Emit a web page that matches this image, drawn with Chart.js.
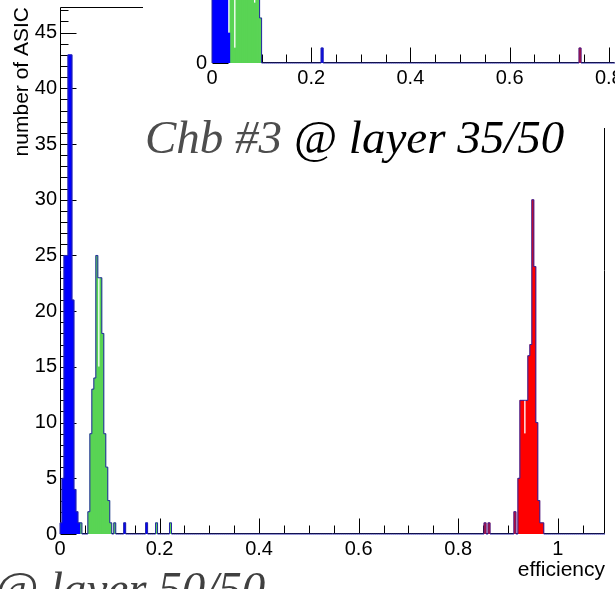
<!DOCTYPE html>
<html>
<head>
<meta charset="utf-8">
<script src="https://cdn.jsdelivr.net/npm/chart.js@4.4.1/dist/chart.umd.min.js"></script>
<style>
  html, body { margin: 0; padding: 0; background: #fff; }
  #page { position: relative; width: 615px; height: 589px; overflow: hidden; background: #fff; }
  #mainChart { position: absolute; left: 0; top: 0; }
  #insetPad { position: absolute; left: 143px; top: 0; width: 472px; height: 128px; background: #fff; }
  .label {
    position: absolute;
    font-family: "Liberation Serif", "Times New Roman", serif;
    font-style: italic;
    font-size: 47px;
    line-height: 47px;
    white-space: nowrap;
  }
</style>
</head>
<body>
<div id="page">
  <canvas id="mainChart" width="615" height="589"></canvas>
  <div id="insetPad"><canvas id="insetChart" width="472" height="128"></canvas></div>
  <div class="label" id="topLabel" style="left:145px; top:114px;"><span style="color:#4d4d4d">Chb #3</span> @ layer 35/50</div>
  <div class="label" id="bottomLabel" style="left:-5px; top:565px; color:#404040;">@ layer 50/50</div>
</div>
<script>
const BIN_WIDTH = 0.004;

// main pad: lower edge of every filled bin, and its count
const blueEdges = [0.000, 0.004, 0.008, 0.012, 0.016, 0.020, 0.024, 0.028, 0.032, 0.036, 0.128, 0.172];
const blueCounts = [1, 5, 25, 25, 43, 43, 21, 4, 2, 1, 1, 1];
const greenEdges = [0.040, 0.056, 0.060, 0.064, 0.068, 0.072, 0.076, 0.080, 0.084, 0.088, 0.092, 0.096, 0.100, 0.108, 0.192, 0.220];
const greenCounts = [1, 2, 9, 13, 14, 25, 15, 23, 18, 9, 6, 3, 1, 1, 1, 1];
const redEdges = [0.852, 0.860, 0.912, 0.920, 0.924, 0.928, 0.932, 0.936, 0.940, 0.944, 0.948, 0.952, 0.956, 0.960, 0.964, 0.968];
const redCounts = [1, 1, 2, 5, 12, 12, 9, 12, 16, 17, 30, 24, 10, 3, 1, 1];
// bins where the outline stands above the fill
const notchEdges = [0.076, 0.932];
const notchCounts = [23, 12];

const xTickValues = [0, 0.2, 0.4, 0.6, 0.8, 1];
const xTickLabels = ['0', '0.2', '0.4', '0.6', '0.8', '1'];
const yTickValues = [0, 5, 10, 15, 20, 25, 30, 35, 40, 45];
const yTickLabels = ['0', '5', '10', '15', '20', '25', '30', '35', '40', '45'];

// inset pad (layer 35/50), cut off at the top of the picture
const insetBlueEdges = [0.000, 0.004, 0.008, 0.012, 0.016, 0.020, 0.024, 0.028, 0.032, 0.220];
const insetBlueCounts = [9, 18, 30, 35, 28, 16, 8, 5, 2, 1];
const insetGreenEdges = [0.036, 0.040, 0.044, 0.048, 0.052, 0.056, 0.060, 0.064, 0.068, 0.072, 0.076, 0.080, 0.084, 0.088, 0.092, 0.096];
const insetGreenCounts = [5, 8, 1, 14, 20, 24, 22, 25, 19, 16, 12, 9, 4, 6, 5, 3];
const insetRedEdges = [0.740];
const insetRedCounts = [1];
const insetNotchEdges = [0.032, 0.044, 0.084];
const insetNotchCounts = [6, 10, 7];

const insetTickValues = [0, 0.2, 0.4, 0.6, 0.8];
const insetTickLabels = ['0', '0.2', '0.4', '0.6', '0.8'];

const BLUE = '#0000ff';
const GREEN = '#59d454';
const RED = '#ff0000';
const OUTLINE = '#2626a6';

Chart.defaults.font.family = '"Liberation Sans", Arial, sans-serif';
Chart.defaults.color = '#000';

function barPoints(edges, counts) {
    return edges.map((e, i) => ({ x: e + BIN_WIDTH / 2, y: counts[i] }));
}

// step outline over all filled bins, running along zero elsewhere (like ROOT's hist line)
function outlinePoints(xMax, series) {
    const nBins = Math.ceil(xMax / BIN_WIDTH);
    const level = new Array(nBins).fill(0);
    series.forEach(([edges, counts]) => {
        edges.forEach((e, i) => {
            const b = Math.round(e / BIN_WIDTH);
            level[b] = Math.max(level[b], counts[i]);
        });
    });
    const pts = [{ x: 0, y: 0 }];
    level.forEach((v, b) => pts.push({ x: b * BIN_WIDTH, y: v }));
    pts.push({ x: xMax, y: 0 });
    return pts;
}

function barSet(edges, counts, color) {
    return {
        type: 'bar',
        data: barPoints(edges, counts),
        backgroundColor: color,
        borderWidth: 0,
        grouped: false,
        barPercentage: 1,
        categoryPercentage: 1,
        order: 2,
    };
}

function lineSet(points) {
    return {
        type: 'line',
        data: points,
        stepped: 'before',
        borderColor: OUTLINE,
        borderWidth: 1,
        pointRadius: 0,
        fill: false,
        tension: 0,
        clip: 3,
        order: 1,
    };
}

// ROOT style frame with tick marks pointing inside the pad
const rootAxesPlugin = {
    id: 'rootAxes',
    beforeDatasetsDraw(chart, args, opts) {
        const { ctx, chartArea: a, scales: { x, y } } = chart;
        ctx.save();
        ctx.strokeStyle = '#000';
        ctx.lineWidth = 1;
        ctx.beginPath();
        const L = Math.round(a.left) + 0.5, R = Math.round(a.right) - 0.5;
        const T = Math.round(a.top) + 0.5, B = Math.round(a.bottom) - 0.5;
        ctx.moveTo(L, T); ctx.lineTo(L, B); ctx.lineTo(R, B);
        if (opts.fullFrame) { ctx.lineTo(R, T); ctx.lineTo(L, T); }
        for (let i = 0; ; i++) {
            const v = i * opts.xStep;
            if (v > x.max + 1e-9) break;
            const px = Math.round(x.getPixelForValue(v)) + 0.5;
            const len = i % opts.xMajorEvery === 0 ? opts.xMajor : opts.xMinor;
            ctx.moveTo(px, B); ctx.lineTo(px, B - len);
        }
        for (let i = 0; ; i++) {
            const v = i * opts.yStep;
            if (v > y.max + 1e-9) break;
            const py = Math.round(y.getPixelForValue(v)) + 0.5;
            const len = i % opts.yMajorEvery === 0 ? opts.yMajor : opts.yMinor;
            ctx.moveTo(L, py); ctx.lineTo(L + len, py);
        }
        ctx.stroke();
        ctx.restore();
    }
};

function fixedAxis(size, horizontal) {
    return function (scale) {
        if (horizontal) scale.height = size; else scale.width = size;
        scale.paddingLeft = 0; scale.paddingRight = 0;
        scale.paddingTop = 0; scale.paddingBottom = 0;
    };
}

function setTicks(values) {
    return function (scale) { scale.ticks = values.map(v => ({ value: v })); };
}

new Chart(document.getElementById('mainChart'), {
    data: {
        datasets: [
            lineSet(outlinePoints(1.095, [[blueEdges, blueCounts], [greenEdges, greenCounts], [redEdges, redCounts], [notchEdges, notchCounts]])),
            barSet(blueEdges, blueCounts, BLUE),
            barSet(greenEdges, greenCounts, GREEN),
            barSet(redEdges, redCounts, RED),
        ],
    },
    options: {
        responsive: false,
        animation: false,
        events: [],
        layout: { autoPadding: false, padding: { left: 0, top: 7, right: 10, bottom: 0 } },
        plugins: {
            legend: { display: false },
            tooltip: { enabled: false },
            rootAxes: { fullFrame: true, xStep: 0.05, xMajorEvery: 4, xMajor: 15, xMinor: 8, yStep: 1, yMajorEvery: 5, yMajor: 16, yMinor: 8 },
        },
        scales: {
            x: {
                type: 'linear', min: 0, max: 1.095, offset: false,
                grid: { display: false, drawTicks: false, offset: false },
                border: { display: false },
                ticks: { font: { size: 20 }, padding: 3, maxRotation: 0, autoSkip: false,
                    callback: (v, i) => xTickLabels[i] },
                title: { display: true, text: 'efficiency', align: 'end', font: { size: 21 }, padding: { top: 0, bottom: 6 } },
                afterBuildTicks: setTicks(xTickValues),
                afterFit: fixedAxis(55, true),
            },
            y: {
                type: 'linear', min: 0, max: 47.3,
                grid: { display: false, drawTicks: false },
                border: { display: false },
                ticks: { font: { size: 20 }, padding: 3, autoSkip: false,
                    callback: (v, i) => yTickLabels[i] },
                title: { display: true, text: 'number of ASIC', align: 'end', font: { size: 21 }, padding: { top: 10, bottom: 0 } },
                afterBuildTicks: setTicks(yTickValues),
                afterFit: fixedAxis(60, false),
            },
        },
    },
    plugins: [rootAxesPlugin],
});

new Chart(document.getElementById('insetChart'), {
    data: {
        datasets: [
            lineSet(outlinePoints(0.8125, [[insetBlueEdges, insetBlueCounts], [insetGreenEdges, insetGreenCounts], [insetRedEdges, insetRedCounts], [insetNotchEdges, insetNotchCounts]])),
            barSet(insetBlueEdges, insetBlueCounts, BLUE),
            barSet(insetGreenEdges, insetGreenCounts, GREEN),
            barSet(insetRedEdges, insetRedCounts, RED),
        ],
    },
    options: {
        responsive: false,
        animation: false,
        events: [],
        layout: { autoPadding: false, padding: 0 },
        plugins: {
            legend: { display: false },
            tooltip: { enabled: false },
            rootAxes: { fullFrame: false, xStep: 0.05, xMajorEvery: 4, xMajor: 15, xMinor: 8, yStep: 1, yMajorEvery: 5, yMajor: 16, yMinor: 8 },
        },
        scales: {
            x: {
                type: 'linear', min: 0, max: 0.8125, offset: false,
                grid: { display: false, drawTicks: false, offset: false },
                border: { display: false },
                ticks: { font: { size: 20 }, padding: 3, maxRotation: 0, autoSkip: false,
                    callback: (v, i) => insetTickLabels[i] },
                afterBuildTicks: setTicks(insetTickValues),
                afterFit: fixedAxis(65, true),
            },
            y: {
                type: 'linear', min: 0, max: 4.2,
                grid: { display: false, drawTicks: false },
                border: { display: false },
                ticks: { font: { size: 20 }, padding: 5, autoSkip: false,
                    callback: () => '0' },
                afterBuildTicks: setTicks([0]),
                afterFit: fixedAxis(69, false),
            },
        },
    },
    plugins: [rootAxesPlugin],
});
</script>
</body>
</html>
